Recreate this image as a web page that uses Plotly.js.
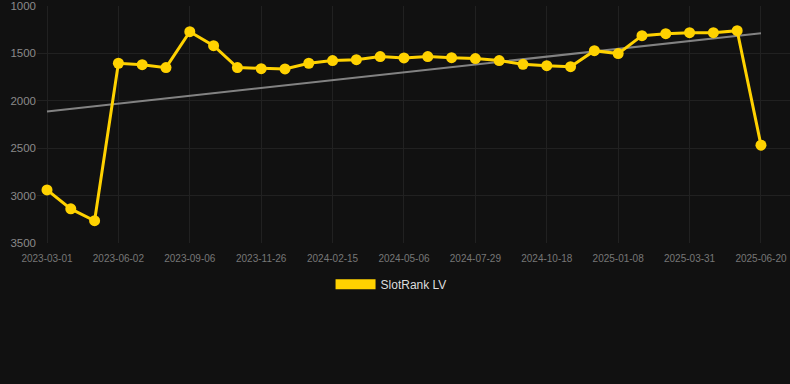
<!DOCTYPE html>
<html>
<head>
<meta charset="utf-8">
<script src="https://cdn.plot.ly/plotly-3.0.1.min.js"></script>
<style>
  html, body { margin: 0; padding: 0; background: #111111; }
  #chart { width: 790px; height: 384px; }
</style>
</head>
<body>
<div id="chart"></div>
<script>
// Category dates (x axis), one per observation
const dates = [
  "2023-03-01", "2023-04-01", "2023-05-02",
  "2023-06-02", "2023-07-05", "2023-08-05",
  "2023-09-06", "2023-10-03", "2023-10-30",
  "2023-11-26", "2023-12-23", "2024-01-19",
  "2024-02-15", "2024-03-12", "2024-04-09",
  "2024-05-06", "2024-06-03", "2024-07-01",
  "2024-07-29", "2024-08-25", "2024-09-21",
  "2024-10-18", "2024-11-14", "2024-12-11",
  "2025-01-08", "2025-02-04", "2025-03-04",
  "2025-03-31", "2025-04-27", "2025-05-24",
  "2025-06-20"
];

// SlotRank LV values (rank, lower is better)
const rankLV = [
  2940, 3140, 3265,
  1604, 1619, 1650,
  1271, 1418, 1650,
  1661, 1664, 1604,
  1576, 1566, 1534,
  1548, 1534, 1545,
  1555, 1576, 1615,
  1629, 1640, 1471,
  1502, 1313, 1292,
  1281, 1281, 1260,
  2468
];

// Tick labels shown on the x axis
const tickDates = [
  "2023-03-01", "2023-06-02", "2023-09-06", "2023-11-26",
  "2024-02-15", "2024-05-06", "2024-07-29", "2024-10-18",
  "2025-01-08", "2025-03-31", "2025-06-20"
];

const yTicks = [1000, 1500, 2000, 2500, 3000, 3500];

const seriesName = "SlotRank LV";

// Linear trend (least squares over the observation index)
const n = rankLV.length;
let sx = 0, sy = 0, sxx = 0, sxy = 0;
for (let i = 0; i < n; i++) {
  sx += i; sy += rankLV[i]; sxx += i * i; sxy += i * rankLV[i];
}
const slope = (n * sxy - sx * sy) / (n * sxx - sx * sx);
const intercept = (sy - slope * sx) / n;
const trendX = [dates[0], dates[n - 1]];
const trendY = [intercept, intercept + slope * (n - 1)];

const gold = "#FFD200";

const traces = [
  {
    x: trendX, y: trendY, type: "scatter", mode: "lines",
    line: { color: "rgba(150,150,150,0.85)", width: 2 },
    showlegend: false, hoverinfo: "skip"
  },
  {
    x: dates, y: rankLV, type: "scatter", mode: "lines+markers",
    name: seriesName,
    line: { color: gold, width: 3 },
    marker: { color: gold, size: 11 },
    showlegend: false, cliponaxis: false
  },
  {
    x: [null], y: [null], type: "scatter", mode: "lines",
    name: seriesName,
    line: { color: gold, width: 12 },
    showlegend: true
  }
];

const layout = {
  width: 790, height: 384,
  paper_bgcolor: "#111111",
  plot_bgcolor: "#111111",
  margin: { l: 37, r: 0, t: 6, b: 141 },
  font: { family: "Liberation Sans, Arial, sans-serif" },
  xaxis: {
    type: "category",
    categoryorder: "array",
    categoryarray: dates,
    range: [-0.42, 31.22],
    automargin: false,
    tickangle: 0,
    tickmode: "array",
    tickvals: tickDates,
    ticktext: tickDates,
    tickfont: { size: 10, color: "#777777" },
    ticklabelstandoff: 8,
    showgrid: true,
    gridcolor: "#212121",
    gridwidth: 1,
    zeroline: false,
    showline: false,
    fixedrange: true
  },
  yaxis: {
    range: [3500, 1000],
    automargin: false,
    tickmode: "array",
    tickvals: yTicks,
    ticktext: yTicks.map(String),
    tickfont: { size: 11.5, color: "#8a8a8a" },
    showgrid: true,
    gridcolor: "#212121",
    gridwidth: 1,
    zeroline: false,
    showline: false,
    fixedrange: true
  },
  showlegend: true,
  legend: {
    orientation: "h",
    xref: "container",
    yref: "container",
    x: 0.495, xanchor: "center",
    y: 0.26, yanchor: "middle",
    font: { size: 12, color: "#dddddd" },
    itemwidth: 40,
    bgcolor: "rgba(0,0,0,0)"
  }
};

Plotly.newPlot("chart", traces, layout, { displayModeBar: false, staticPlot: true });
</script>
</body>
</html>
